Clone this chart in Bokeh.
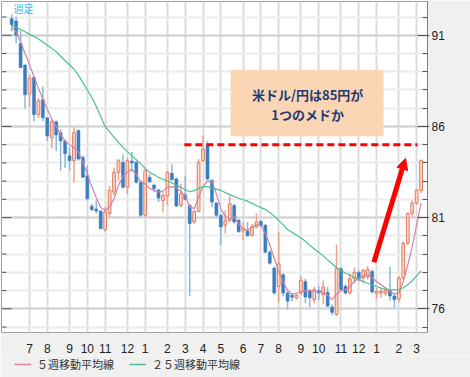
from bokeh.plotting import figure
from bokeh.layouts import column
from bokeh.models import (ColumnDataSource, FixedTicker, Range1d, BoxAnnotation,
                          Label, Arrow, NormalHead, Legend, LegendItem)
from bokeh.embed import file_html
from bokeh.resources import INLINE

# ---------------- data (weekly USD/JPY) ----------------
opens = [91.91, 91.78, 90.55, 89.37, 87.79, 88.68, 86.65, 87.47, 86.47, 85.38,
         86.25, 85.65, 85.20, 84.39, 84.12, 85.78, 84.30, 83.30, 81.62, 81.47,
         81.36, 80.35, 81.22, 82.40, 83.48, 84.03, 82.67, 84.10, 84.03, 82.94,
         81.13, 83.21, 82.79, 82.52, 81.94, 82.18, 83.43, 83.12, 81.67, 82.25,
         81.67, 80.77, 81.34, 84.12, 84.93, 83.03, 81.80, 81.13, 80.58, 80.85,
         81.67, 80.85, 80.27, 80.27, 80.04, 80.49, 80.80, 80.58, 79.10, 78.23,
         77.23, 77.87, 76.87, 76.74, 76.60, 76.87, 77.50, 76.96, 76.50, 77.00,
         76.78, 76.90, 76.10, 75.69, 78.19, 77.23, 76.87, 77.65, 78.00, 77.70,
         77.75, 78.05, 76.85, 76.87, 76.85, 77.00, 76.70, 76.55, 77.68, 79.59,
         81.22, 81.80, 82.49]
highs = [92.15, 92.03, 91.25, 89.40, 88.83, 88.73, 87.56, 88.19, 86.50, 86.33,
         86.33, 85.84, 85.30, 84.84, 85.96, 85.84, 84.39, 83.84, 81.76, 81.94,
         81.40, 81.58, 82.76, 83.75, 84.21, 84.48, 84.30, 84.60, 84.12, 83.03,
         83.66, 83.39, 82.85, 82.58, 82.40, 83.57, 83.93, 83.21, 82.85, 83.30,
         81.76, 81.40, 84.21, 85.51, 85.20, 83.12, 81.85, 81.16, 81.40, 82.18,
         81.76, 80.94, 80.76, 80.76, 80.67, 81.22, 80.85, 80.67, 79.22, 78.32,
         80.22, 77.96, 76.96, 76.85, 76.80, 77.80, 77.65, 77.10, 77.20, 77.25,
         77.55, 77.20, 76.25, 79.53, 78.30, 77.35, 77.95, 78.25, 78.10, 78.20,
         78.35, 78.15, 77.14, 77.14, 77.20, 78.30, 76.87, 77.80, 79.70, 81.30,
         81.95, 82.60, 84.20]
lows = [91.20, 90.57, 89.19, 86.98, 87.05, 86.29, 86.47, 86.29, 85.20, 84.80,
        84.66, 83.57, 83.70, 83.57, 82.94, 84.12, 83.17, 81.94, 81.36, 81.22,
        80.35, 80.22, 81.04, 82.21, 83.03, 82.58, 82.30, 83.50, 82.85, 81.04,
        81.00, 82.90, 82.40, 81.85, 81.31, 81.67, 83.03, 81.58, 81.58, 81.95,
        76.69, 80.67, 81.31, 84.03, 83.03, 81.58, 81.04, 79.50, 80.13, 80.76,
        80.67, 80.18, 79.77, 79.95, 79.95, 80.40, 80.49, 79.04, 78.41, 76.78,
        76.33, 76.69, 75.96, 76.42, 76.50, 76.75, 76.30, 76.10, 76.30, 76.50,
        76.25, 76.10, 75.65, 75.60, 76.98, 76.78, 76.78, 77.40, 77.50, 77.40,
        77.60, 76.85, 76.55, 76.60, 76.70, 76.45, 76.05, 76.35, 77.60, 79.50,
        81.00, 81.70, 82.35]
closes = [91.58, 91.00, 89.22, 87.74, 88.65, 86.65, 87.41, 86.47, 85.47, 86.25,
          85.53, 85.20, 84.50, 84.12, 85.66, 84.21, 83.21, 82.03, 81.44, 81.36,
          80.40, 81.31, 82.49, 83.48, 84.12, 82.67, 84.12, 84.00, 82.94, 81.13,
          83.57, 82.97, 82.58, 82.07, 82.21, 83.48, 83.08, 81.63, 82.30, 82.00,
          80.67, 81.34, 84.03, 84.75, 83.12, 81.85, 81.13, 80.49, 80.85, 81.76,
          80.76, 80.22, 80.40, 80.00, 80.49, 80.76, 80.55, 79.10, 78.50, 76.87,
          78.46, 76.87, 76.42, 76.63, 76.74, 77.56, 76.65, 76.60, 77.05, 76.87,
          77.20, 76.15, 75.80, 78.20, 77.05, 76.87, 77.65, 78.00, 77.60, 78.10,
          78.15, 76.92, 76.95, 76.96, 77.00, 76.70, 76.50, 77.68, 79.59, 81.22,
          81.80, 82.49, 84.12]
ma5 = [91.45, 91.18, 90.64, 90.00, 89.40, 88.74, 88.10, 87.50, 86.95, 86.40,
       86.00, 85.55, 85.20, 85.00, 84.85, 84.60, 84.03, 83.40, 82.70, 82.10,
       81.55, 81.40, 81.60, 82.03, 82.76, 83.25, 83.50, 83.66, 83.35, 82.97,
       82.85, 82.60, 82.50, 82.40, 82.45, 82.67, 82.70, 82.63, 82.45, 82.20,
       81.60, 81.49, 82.12, 82.70, 83.00, 82.97, 82.30, 81.49, 81.04, 80.94,
       81.04, 80.67, 80.40, 80.30, 80.49, 80.60, 80.58, 80.13, 79.50, 78.77,
       78.05, 77.50, 77.00, 76.80, 76.85, 76.95, 77.00, 77.00, 76.98, 76.95,
       76.90, 76.75, 76.50, 76.80, 77.00, 77.05, 77.23, 77.50, 77.68, 77.78,
       77.87, 77.70, 77.50, 77.32, 77.14, 76.96, 76.80, 76.87, 77.50, 78.40,
       79.40, 80.60, 81.80]
ma25 = [91.54, 91.43, 91.31, 91.19, 91.06, 90.93, 90.80, 90.63, 90.45, 90.28,
        90.10, 89.85, 89.60, 89.38, 89.15, 88.80, 88.40, 88.00, 87.60, 87.10,
        86.55, 86.00, 85.70, 85.40, 85.12, 84.85, 84.62, 84.40, 84.18, 83.95,
        83.70, 83.48, 83.35, 83.21, 83.10, 83.00, 82.90, 82.78, 82.66, 82.54,
        82.42, 82.48, 82.60, 82.70, 82.70, 82.63, 82.56, 82.49, 82.38, 82.26,
        82.16, 82.06, 81.98, 81.90, 81.78, 81.66, 81.55, 81.45, 81.28, 81.08,
        80.85, 80.60, 80.35, 80.20, 80.05, 79.90, 79.70, 79.48, 79.28, 79.10,
        78.90, 78.68, 78.47, 78.26, 78.10, 77.96, 77.84, 77.72, 77.60, 77.50,
        77.40, 77.32, 77.22, 77.14, 77.08, 77.05, 77.04, 77.05, 77.15, 77.32,
        77.54, 77.81, 78.08]
month_tick_weeks = [4, 8, 13, 17, 21, 26, 30, 35, 39, 43, 47, 52, 56, 60, 65, 69, 74, 78, 82, 87, 91]
month_labels = ["7", "8", "9", "10", "11", "12", "1", "2", "3", "4", "5", "6",
                "7", "8", "9", "10", "11", "12", "1", "2", "3"]
price_ticks = [76, 81, 86, 91]
price_minor_ticks = list(range(74, 94))
target_level = 85
chart_title = "週足"
note_lines = ["米ドル/円は85円が", "1つのメドか"]
legend_labels = ["５週移動平均線", "２５週移動平均線"]

weeks = list(range(len(opens)))

PINK = "#d283a3"
GREEN = "#4cc08f"
PANEL = "#f0f0f0"

# ---------------- main figure ----------------
X0, X1 = -2.29, 93.44
PX = (X1 - X0) / 426.0          # data units per pixel along x
p = figure(width=470, height=355, x_range=Range1d(X0, X1), y_range=Range1d(74.70, 92.85),
           output_backend="svg", toolbar_location=None, y_axis_location="right",
           min_border_left=1, min_border_top=1, min_border_right=43, min_border_bottom=20,
           background_fill_color="white", border_fill_color=PANEL)
p.outline_line_color = "#a0a0a0"

xa = p.xaxis[0]
xa.ticker = FixedTicker(ticks=month_tick_weeks)
xa.major_label_overrides = {w: l for w, l in zip(month_tick_weeks, month_labels)}
xa.major_tick_line_color = None
xa.minor_tick_line_color = None
xa.axis_line_color = None
xa.major_label_text_font = "Liberation Sans"
xa.major_label_text_font_size = "12px"
xa.major_label_text_color = "#222222"
xa.major_label_standoff = 5

yticker = FixedTicker(ticks=price_ticks, minor_ticks=price_minor_ticks)
ya = p.yaxis[0]
ya.ticker = yticker
ya.major_tick_in = 10
ya.major_tick_out = 2
ya.minor_tick_in = 5
ya.minor_tick_out = 0
ya.axis_line_color = "#808080"
ya.major_tick_line_color = "#555555"
ya.minor_tick_line_color = "#555555"
ya.major_label_text_font = "Liberation Sans"
ya.major_label_text_font_size = "12px"
ya.major_label_text_color = "#222222"
ya.major_label_standoff = 2

p.xgrid.ticker = xa.ticker
p.xgrid.grid_line_color = "#dcdcdc"
p.xgrid.grid_line_width = 2
p.ygrid.ticker = yticker
p.ygrid.grid_line_color = "#d2d2d2"
p.ygrid.grid_line_width = 2
p.ygrid.minor_grid_line_color = "#ebebeb"
p.ygrid.minor_grid_line_width = 2

# inward ticks on the left edge of the frame (mirroring the right axis)
minor_only = [t for t in price_minor_ticks if t not in price_ticks]
p.segment(x0=[X0] * len(minor_only), y0=minor_only, x1=[X0 + 5 * PX] * len(minor_only), y1=minor_only,
          line_color="#555555", line_width=1)
p.segment(x0=[X0] * len(price_ticks), y0=price_ticks, x1=[X0 + 10 * PX] * len(price_ticks), y1=price_ticks,
          line_color="#555555", line_width=1)

# ---------------- candles ----------------
up = [i for i in weeks if closes[i] >= opens[i]]
dn = [i for i in weeks if closes[i] < opens[i]]
src_up = ColumnDataSource(dict(x=up, top=[closes[i] for i in up], bottom=[opens[i] for i in up],
                               high=[highs[i] for i in up], low=[lows[i] for i in up]))
src_dn = ColumnDataSource(dict(x=dn, top=[opens[i] for i in dn], bottom=[closes[i] for i in dn],
                               high=[highs[i] for i in dn], low=[lows[i] for i in dn]))

p.segment(x0="x", y0="high", x1="x", y1="low", source=src_dn, line_color="#8cb6dd", line_width=1.5)
p.segment(x0="x", y0="high", x1="x", y1="low", source=src_up, line_color="#eea28e", line_width=1.5)
p.vbar(x="x", width=0.68, top="top", bottom="bottom", source=src_dn,
       fill_color="#3a7dbf", line_color="#3a7dbf", line_width=0.5)
p.vbar(x="x", width=0.62, top="top", bottom="bottom", source=src_up,
       fill_color="#fad7c9", line_color="#e27a5f", line_width=1)

# ---------------- moving averages ----------------
p.line(weeks, ma5, line_color=PINK, line_width=1.2)
p.line(weeks, ma25, line_color=GREEN, line_width=1.2)

# ---------------- annotations ----------------
p.line([38.8, 91.2], [target_level, target_level], line_color="#ff0000", line_width=3, line_dash="7 4")

p.add_layout(BoxAnnotation(left=49.2, right=83.55, top=89.1, bottom=85.46,
                           fill_color="#fcd5b5", fill_alpha=1, line_alpha=0))
p.add_layout(Label(x=66.5, y=87.74, text=note_lines[0], text_align="center", text_baseline="middle",
                   text_font="Noto Sans CJK JP", text_font_style="bold", text_font_size="13px",
                   text_color="#1f3c73"))
p.add_layout(Label(x=66.5, y=86.65, text=note_lines[1], text_align="center", text_baseline="middle",
                   text_font="Noto Sans CJK JP", text_font_style="bold", text_font_size="13px",
                   text_color="#1f3c73"))

p.add_layout(Arrow(end=NormalHead(size=11, fill_color="#ff0000", line_color="#ff0000"),
                   x_start=81.4, y_start=78.55, x_end=88.5, y_end=84.25,
                   line_color="#ff0000", line_width=5))

p.add_layout(Label(x=0.4, y=92.47, text=chart_title, text_align="left", text_baseline="middle",
                   text_font="Noto Sans CJK JP", text_font_size="10px", text_color="#33bbee"))

# ---------------- legend strip (the MA series drawn off-view, used as legend keys) ----------------
q = figure(width=470, height=22, x_range=Range1d(-1000, -999), y_range=Range1d(0, 1),
           output_backend="svg", toolbar_location=None,
           x_axis_location=None, y_axis_location=None,
           min_border_left=0, min_border_right=0, min_border_top=0, min_border_bottom=0,
           background_fill_color=PANEL, border_fill_color=PANEL)
q.outline_line_color = None
q.xgrid.visible = False
q.ygrid.visible = False
l5 = q.line(weeks, ma5, line_color=PINK, line_width=1.5)
l25 = q.line(weeks, ma25, line_color=GREEN, line_width=1.5)
legend = Legend(items=[LegendItem(label=legend_labels[0], renderers=[l5]),
                       LegendItem(label=legend_labels[1], renderers=[l25])],
                orientation="horizontal", location=(13, 5),
                background_fill_alpha=0, border_line_color=None,
                label_text_font="Noto Sans CJK JP", label_text_font_size="11px",
                label_text_color="#333333", glyph_width=17, glyph_height=14, label_height=14,
                label_standoff=6, spacing=15, padding=0, margin=0)
q.add_layout(legend)

layout = column(p, q, spacing=0)
open("out.html", "w").write(file_html(layout, INLINE))
